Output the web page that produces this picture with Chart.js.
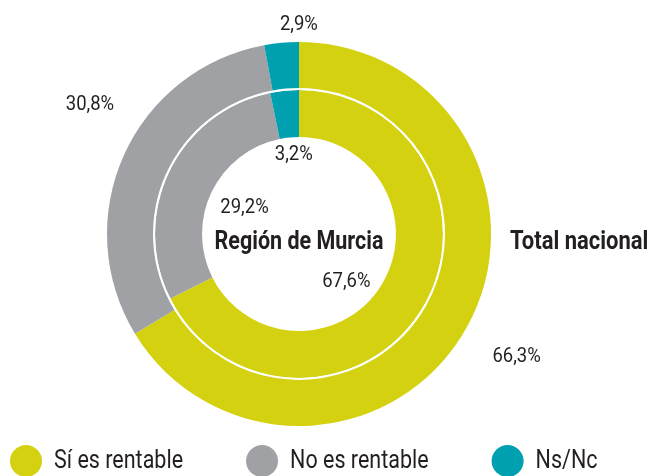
<!DOCTYPE html>
<html lang="es">
<head>
  <meta charset="UTF-8">
  <title>Rentabilidad</title>
  <script src="https://cdn.jsdelivr.net/npm/chart.js"></script>
  <style>
    html, body { margin: 0; padding: 0; background: #fff; }
    body { width: 648px; height: 476px; position: relative; overflow: hidden; }
    #wrap { position: absolute; left: 0; top: 0; width: 648px; height: 476px; }
  </style>
</head>
<body>
  <div id="wrap"><canvas id="chart"></canvas></div>

  <script>
    const categorias = ["Sí es rentable", "No es rentable", "Ns/Nc"];
    const totalNacional = [66.3, 30.8, 2.9];
    const regionMurcia = [67.6, 29.2, 3.2];
    const colores = ["#d4d110", "#a0a1a5", "#00a0b0"];
    const FONT = 'Roboto, "Liberation Sans", sans-serif';
    const TXT = "#231f20";

    function fmt(v) {
      return v.toFixed(1).replace(".", ",") + "%";
    }

    // texto estrechado horizontalmente (imita una fuente condensada)
    function texto(ctx, s, x, y, align, k) {
      ctx.save();
      ctx.translate(x, y);
      ctx.scale(k, 1);
      ctx.textAlign = align;
      ctx.fillText(s, 0, 0);
      ctx.restore();
    }

    // radio relativo y desplazamiento angular (grados) de cada etiqueta
    const posEtiquetas = {
      0: [[1.30, 0], [1.28, 7.6], [1.09, 5.2]],
      2: [[0.69, 13.3], [0.625, 0], [0.815, 2]]
    };

    const etiquetas = {
      id: "etiquetas",
      afterDatasetsDraw(chart) {
        const ctx = chart.ctx;
        ctx.save();
        ctx.fillStyle = TXT;
        ctx.textBaseline = "middle";
        ctx.font = "21px " + FONT;
        [0, 2].forEach(di => {
          const meta = chart.getDatasetMeta(di);
          const vals = chart.data.datasets[di].data;
          meta.data.forEach((arc, i) => {
            const p = arc.getProps(["x", "y", "startAngle", "endAngle", "outerRadius", "innerRadius"], true);
            const [rf, da] = posEtiquetas[di][i];
            const base = di === 0 ? p.outerRadius : p.innerRadius;
            const ang = (p.startAngle + p.endAngle) / 2 + da * Math.PI / 180;
            const r = base * rf;
            texto(ctx, fmt(vals[i]), p.x + r * Math.cos(ang), p.y + r * Math.sin(ang), "center", 0.88);
          });
        });
        const outer = chart.getDatasetMeta(0).data[0].getProps(["x", "y", "outerRadius"], true);
        ctx.font = "bold 25px " + FONT;
        texto(ctx, chart.data.datasets[2].label, outer.x, outer.y + 9, "center", 0.86);
        texto(ctx, chart.data.datasets[0].label, outer.x + outer.outerRadius + 19, outer.y + 9, "left", 0.88);

        // leyenda
        ctx.font = "25px " + FONT;
        let lx = 10;
        const ly = 461;
        categorias.forEach((c, i) => {
          ctx.fillStyle = colores[i];
          ctx.beginPath();
          ctx.arc(lx + 16, ly, 16, 0, Math.PI * 2);
          ctx.fill();
          ctx.fillStyle = TXT;
          const k = 0.86;
          texto(ctx, c, lx + 44, ly + 1, "left", k);
          lx += 44 + ctx.measureText(c).width * k + 63;
        });
        ctx.restore();
      }
    };

    new Chart(document.getElementById("chart"), {
      type: "doughnut",
      data: {
        labels: categorias,
        datasets: [
          { label: "Total nacional", data: totalNacional, backgroundColor: colores, weight: 46 },
          { label: "sep", data: [1], backgroundColor: ["#ffffff"], weight: 2 },
          { label: "Región de Murcia", data: regionMurcia, backgroundColor: colores, weight: 47 }
        ]
      },
      options: {
        responsive: true,
        maintainAspectRatio: false,
        animation: false,
        cutout: "50.5%",
        borderWidth: 0,
        layout: { padding: { left: 107, right: 157, top: 42, bottom: 50 } },
        plugins: { legend: { display: false }, tooltip: { enabled: false } }
      },
      plugins: [etiquetas]
    });
  </script>
</body>
</html>
